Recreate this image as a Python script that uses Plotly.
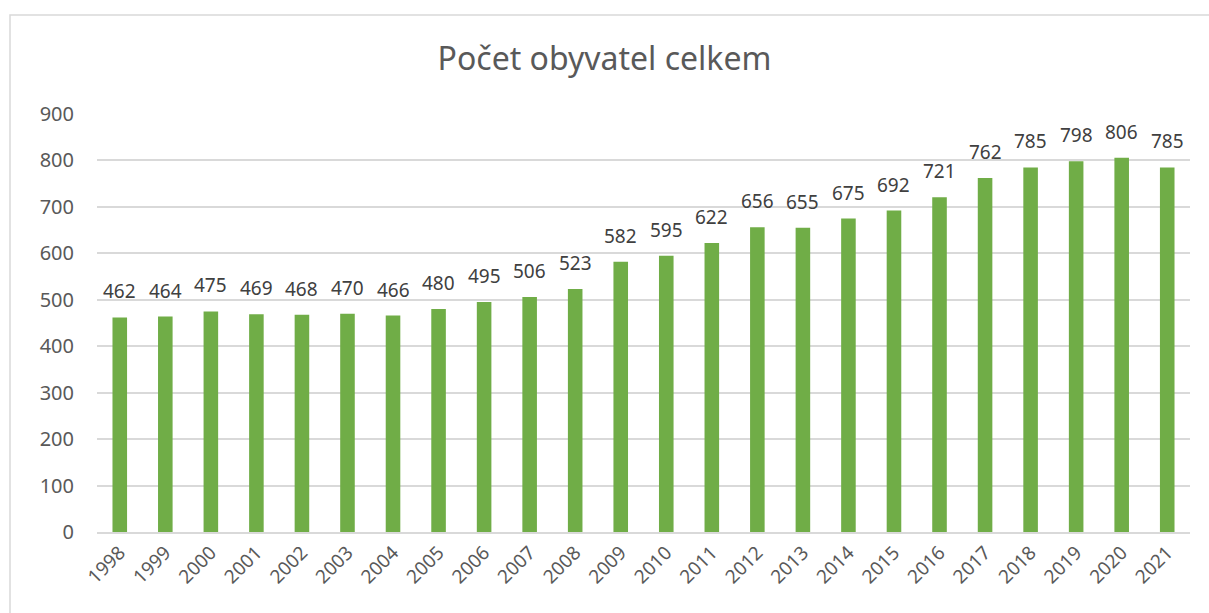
import plotly.graph_objects as go

years = list(range(1998, 2022))
year_labels = [str(y) for y in years]
population = [462, 464, 475, 469, 468, 470, 466, 480, 495, 506, 523, 582,
              595, 622, 656, 655, 675, 692, 721, 762, 785, 798, 806, 785]
title_text = "Počet obyvatel celkem"
y_ticks = [0, 100, 200, 300, 400, 500, 600, 700, 800, 900]

W, H = 1209, 613
L, R, T, B = 97, 19, 114, 81
pw = W - L - R
ph = H - T - B
FONT = "Noto Sans, Liberation Sans, sans-serif"

fig = go.Figure(go.Bar(
    x=years, y=population,
    marker=dict(color="#70AD47", line=dict(width=0)),
    hoverinfo="x+y",
))

for yr, v in zip(years, population):
    fig.add_annotation(x=yr, y=v, text=str(v), showarrow=False, xref="x", yref="y",
                       yanchor="middle", yshift=26,
                       font=dict(family=FONT, size=19, color="#404040"))

fig.update_layout(
    width=W, height=H,
    margin=dict(l=L, r=R, t=T, b=B, pad=0),
    paper_bgcolor="white", plot_bgcolor="white",
    bargap=0.68,
    showlegend=False,
    title=dict(text=title_text, x=0.5, xanchor="center", y=1 - 59 / H, yanchor="middle",
               font=dict(family=FONT, size=32, color="#595959")),
    font=dict(family=FONT, color="#595959"),
    xaxis=dict(type="linear", range=[years[0] - 0.5, years[-1] + 0.5],
               tickvals=years, ticktext=year_labels,
               tickangle=-45, tickfont=dict(size=19, color="#595959"),
               showgrid=False, showline=True, linecolor="#D9D9D9", linewidth=2,
               zeroline=False, ticks="", ticklen=0),
    yaxis=dict(range=[0, 900], tickvals=y_ticks, tickfont=dict(size=20, color="#595959"),
               showgrid=True, gridcolor="#D9D9D9", gridwidth=2, zeroline=False,
               showline=False, ticks="", ticklabelstandoff=22),
    shapes=[dict(type="rect", xref="paper", yref="paper",
                 x0=(10 - L) / pw, x1=(W + 20 - L) / pw,
                 y0=(H - B - (H + 20)) / ph, y1=(H - B - 15) / ph,
                 line=dict(color="#D9D9D9", width=1.5), fillcolor="rgba(0,0,0,0)", layer="below")],
)

fig.write_html(
    "out.html",
    config={"displayModeBar": False},
    post_script="document.body.style.margin='0';document.body.style.overflow='hidden';"
                "document.documentElement.style.overflow='hidden';",
)
